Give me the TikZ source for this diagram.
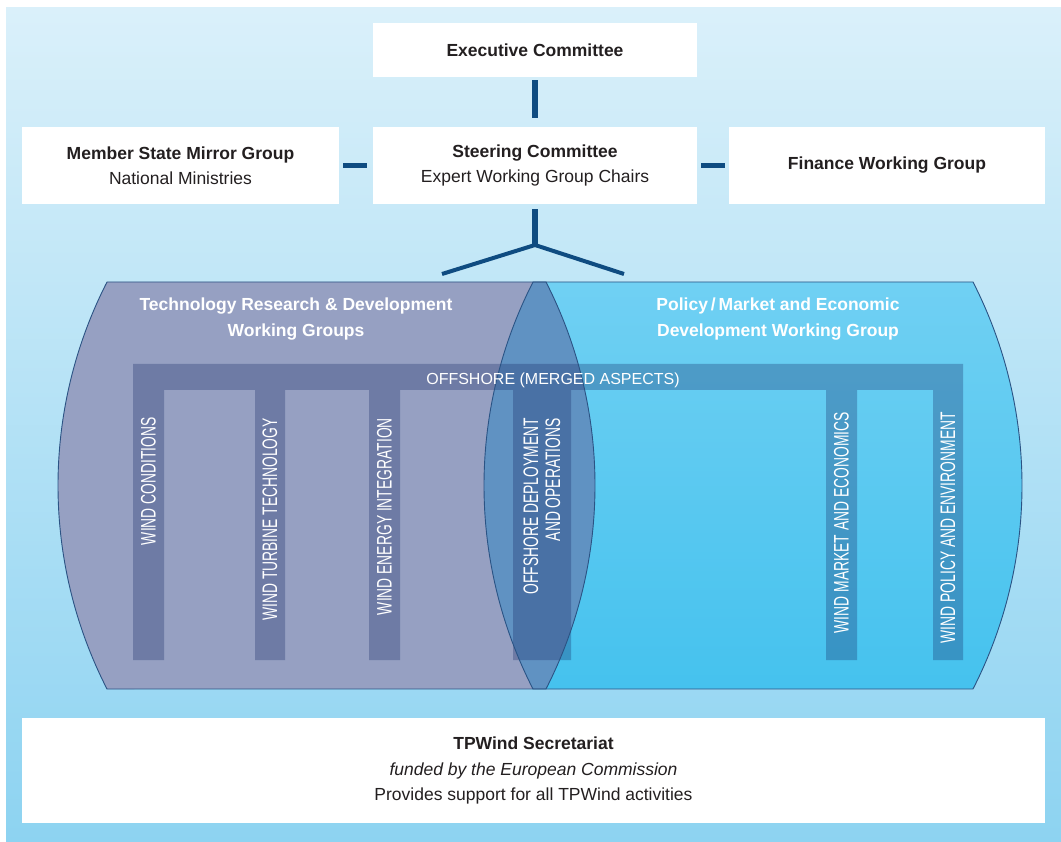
\documentclass[tikz,border=0pt]{standalone}
\usepackage{fontspec}
\setmainfont{Liberation Sans}
\newfontfamily\condfont[FakeStretch=0.66]{Liberation Sans}
\usetikzlibrary{calc}

\definecolor{panelTop}{HTML}{DAF0FA}
\definecolor{panelBot}{HTML}{8DD3F1}
\definecolor{linkblue}{HTML}{0F4C81}
\definecolor{techgrey}{HTML}{96A0C2}
\definecolor{polTop}{HTML}{70D0F3}
\definecolor{polBot}{HTML}{45C2EE}
\definecolor{lensblue}{HTML}{6092C2}
\definecolor{edgeblue}{HTML}{2B5384}
\definecolor{barshade}{RGB}{20,40,100}
\definecolor{txtdark}{HTML}{231F20}

\newcommand{\techcyl}{(107,282) -- (546,282) arc[start angle=-27.08, end angle=27.08, radius=447] -- (107,689) arc[start angle=152.92, end angle=207.08, radius=447] -- cycle}
\newcommand{\polcyl}{(533,282) -- (973,282) arc[start angle=-27.08, end angle=27.08, radius=447] -- (533,689) arc[start angle=152.92, end angle=207.08, radius=447] -- cycle}

\tikzset{
  box/.style={fill=white, inner sep=0pt, align=center, text=txtdark, font=\fontsize{17.5}{25.5}\selectfont},
  link/.style={draw=linkblue, line width=5.5pt},
  branch/.style={draw=linkblue, line width=4pt},
  bar/.style={fill=barshade, fill opacity=0.3},
  edge/.style={draw=edgeblue, line width=0.9pt},
  head/.style={text=white, align=center, inner sep=0pt, font=\bfseries\fontsize{17.5}{26}\selectfont},
  vlabel/.style={text=white, rotate=90, anchor=east, inner sep=0pt, align=center, font=\condfont\fontsize{21}{22}\selectfont}
}

\begin{document}
\begin{tikzpicture}[x=1pt,y=-1pt]
\useasboundingbox (0,0) rectangle (1061,842);
\shade[top color=panelTop, bottom color=panelBot] (6,8) rectangle (1061,842);

\node[box, minimum width=324pt, minimum height=54pt] (exec) at (535,50) {\bfseries Executive Committee};
\node[box, minimum width=317pt, minimum height=77pt] (member) at (180.5,165.5) {{\bfseries Member State Mirror Group}\\National Ministries};
\node[box, minimum width=324pt, minimum height=77pt] (steer) at (535,165.5) {{\bfseries Steering Committee}\\Expert Working Group Chairs};
\node[box, minimum width=316pt, minimum height=77pt] (fin) at (887,165.5) {\bfseries Finance Working Group};
\node[box, minimum width=1023pt, minimum height=105pt] (secr) at (533.5,770.5) {{\bfseries TPWind Secretariat}\\{\itshape funded by the European Commission}\\Provides support for all TPWind activities};

\draw[link, shorten <=3pt, shorten >=9pt] (exec) -- (steer);
\draw[link, shorten <=4pt, shorten >=6pt] (member) -- (steer);
\draw[link, shorten <=4pt, shorten >=4pt] (steer) -- (fin);
\coordinate (fork) at (535,245);
\coordinate (techtop) at (442,274);
\coordinate (poltop) at (624,274);
\draw[link, shorten <=5pt] (steer) -- (fork);
\draw[branch] (techtop) -- (fork) -- (poltop);

\fill[techgrey] \techcyl;
\shade[top color=polTop, bottom color=polBot] \polcyl;
\begin{scope}
  \clip \techcyl;
  \fill[lensblue] \polcyl;
\end{scope}
\fill[bar] (133,364) rectangle (963,390) (133,390) rectangle (164,660) (255,390) rectangle (285,660) (369,390) rectangle (400,660) (513,390) rectangle (571,660) (826,390) rectangle (857,660) (933,390) rectangle (963,660);
\draw[edge] \techcyl;
\draw[edge] \polcyl;

\node[head] (techhead) at (296,319.5) {Technology Research \& Development\\Working Groups};
\node[head] (polhead) at (778,319.5) {Policy\,/\,Market and Economic\\Development Working Group};
\node[text=white, inner sep=0pt, anchor=base, font=\fontsize{16}{18}\selectfont] (offhead) at (553,384.5) {OFFSHORE (MERGED ASPECTS)};
\node[vlabel] (wc) at (148.5,417) {WIND CONDITIONS};
\node[vlabel] (wtt) at (270,418) {WIND TURBINE TECHNOLOGY};
\node[vlabel] (wei) at (384.5,418) {WIND ENERGY INTEGRATION};
\node[vlabel, align=right] (odo) at (542,418) {OFFSHORE DEPLOYMENT\\AND OPERATIONS};
\node[vlabel] (wme) at (841.5,412) {WIND MARKET AND ECONOMICS};
\node[vlabel] (wpe) at (948,412) {WIND POLICY AND ENVIRONMENT};
\end{tikzpicture}
\end{document}
